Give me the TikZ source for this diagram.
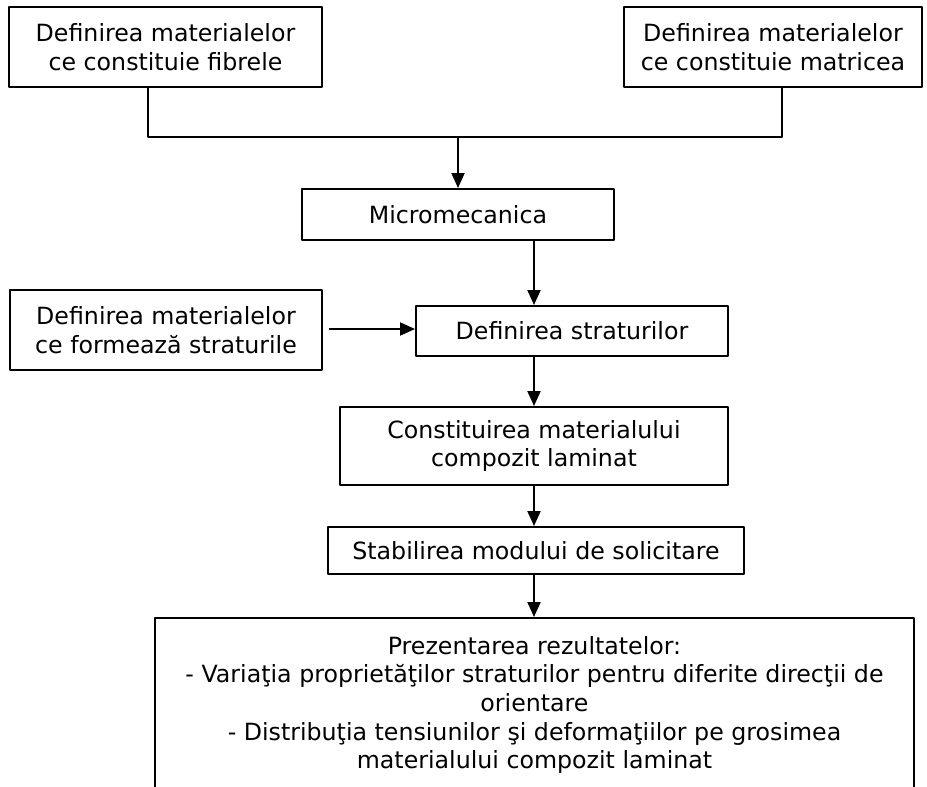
\documentclass[tikz,border=0pt]{standalone}
\usepackage{fontspec}
\setmainfont{DejaVu Sans}
\usetikzlibrary{arrows.meta}
\tikzset{
  box/.style={draw, line width=1.9pt, align=center, inner sep=0pt},
  arr/.style={line width=1.9pt, -{Triangle[length=15pt,width=13pt]}}
}
\begin{document}
\begin{tikzpicture}[x=1pt, y=-1pt, font=\fontsize{23.7}{28.6}\selectfont, line join=round]
			\useasboundingbox (0,0) rectangle (927,787);
			% input boxes
			\node[box, minimum width=313pt, minimum height=80pt] (fib) at (165.5,47) {Definirea materialelor\\ce constituie fibrele};
			\node[box, minimum width=298pt, minimum height=80pt] (mat) at (773,47) {Definirea materialelor\\ce constituie matricea};
			\node[box, minimum width=312pt, minimum height=51pt] (micro) at (458,214.5) {Micromecanica};
			\node[box, minimum width=312pt, minimum height=80pt] (lay) at (166,330) {Definirea materialelor\\ce formează straturile};
			\node[box, minimum width=312pt, minimum height=50pt] (str) at (572,331) {Definirea straturilor};
			\node[box, minimum width=388pt, minimum height=78pt] (lam) at (534,446) {Constituirea materialului\\compozit laminat};
			\node[box, minimum width=416pt, minimum height=47pt] (sol) at (536,550.5) {Stabilirea modului de solicitare};
			\node[box, minimum width=759pt, minimum height=174pt] (rez) at (534.5,705) {Prezentarea rezultatelor:\\- Variaţia proprietăţilor straturilor pentru diferite direcţii de\\orientare\\- Distribuţia tensiunilor şi deformaţiilor pe grosimea\\materialului compozit laminat};
			% connectors
			\coordinate (jn) at (458,137);
			\coordinate (lf) at (148,0);
			\coordinate (rt) at (782,0);
			\coordinate (spine) at (534,0);
			\draw[line width=1.9pt] (fib.south -| lf) |- (jn) -| (mat.south -| rt);
			\draw[arr] (jn) -- (micro.north -| jn);
			\draw[arr] (micro.south -| spine) -- (str.north -| spine);
			\draw[arr] ([xshift=6pt]lay.east |- 0,329) -- (str.west |- 0,329);
			\draw[arr] (str.south -| spine) -- (lam.north -| spine);
			\draw[arr] (lam.south -| spine) -- (sol.north -| spine);
			\draw[arr] (sol.south -| spine) -- (rez.north -| spine);
		\end{tikzpicture}
\end{document}
